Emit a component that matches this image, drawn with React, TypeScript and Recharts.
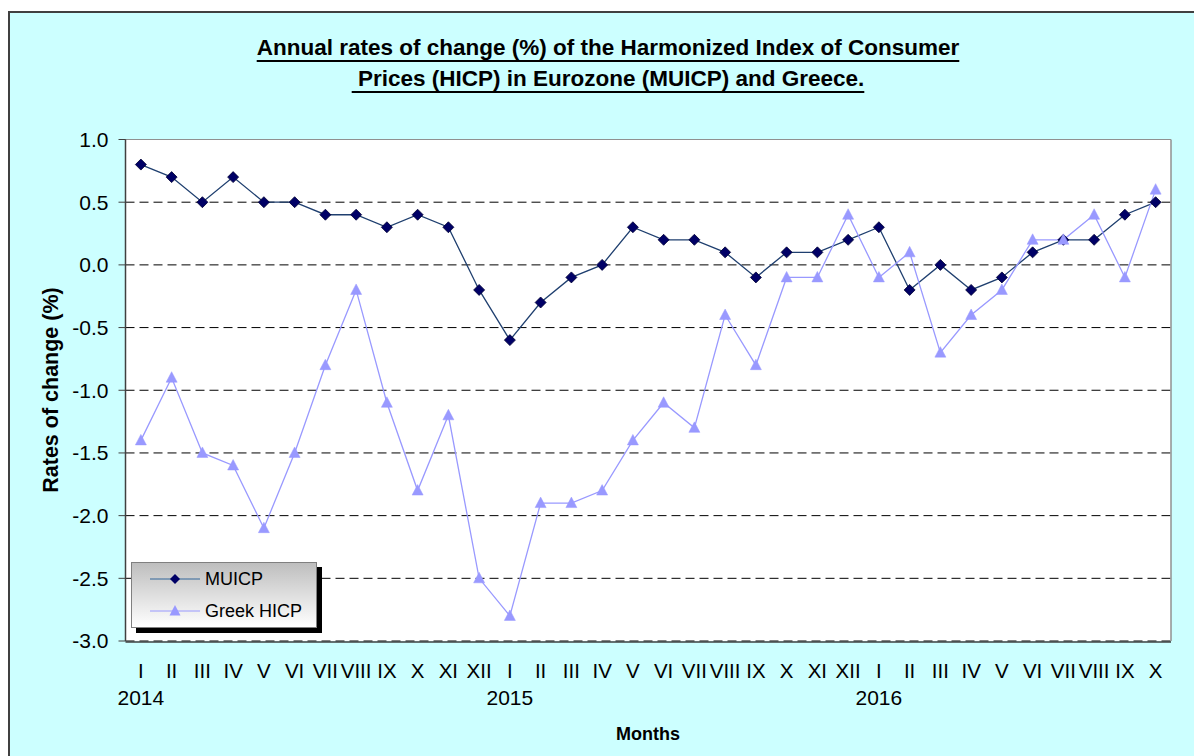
import React from 'react';
import { LineChart, Line, XAxis, YAxis, CartesianGrid } from 'recharts';

const months = [
  'I', 'II', 'III', 'IV', 'V', 'VI', 'VII', 'VIII', 'IX', 'X', 'XI', 'XII',
  'I', 'II', 'III', 'IV', 'V', 'VI', 'VII', 'VIII', 'IX', 'X', 'XI', 'XII',
  'I', 'II', 'III', 'IV', 'V', 'VI', 'VII', 'VIII', 'IX', 'X',
];
const yearLabels = [
  '2014', '', '', '', '', '', '', '', '', '', '', '',
  '2015', '', '', '', '', '', '', '', '', '', '', '',
  '2016', '', '', '', '', '', '', '', '', '',
];
const muicp = [
  0.8, 0.7, 0.5, 0.7, 0.5, 0.5, 0.4, 0.4, 0.3, 0.4, 0.3, -0.2,
  -0.6, -0.3, -0.1, 0.0, 0.3, 0.2, 0.2, 0.1, -0.1, 0.1, 0.1, 0.2,
  0.3, -0.2, 0.0, -0.2, -0.1, 0.1, 0.2, 0.2, 0.4, 0.5,
];
const greekHicp = [
  -1.4, -0.9, -1.5, -1.6, -2.1, -1.5, -0.8, -0.2, -1.1, -1.8, -1.2, -2.5,
  -2.8, -1.9, -1.9, -1.8, -1.4, -1.1, -1.3, -0.4, -0.8, -0.1, -0.1, 0.4,
  -0.1, 0.1, -0.7, -0.4, -0.2, 0.2, 0.2, 0.4, -0.1, 0.6,
];
const yTicks = [-3, -2.5, -2, -1.5, -1, -0.5, 0, 0.5, 1];
const boundaryTicks = months.map((_, i) => i).concat([months.length]);

const data = months.map((m, i) => ({
  idx: i,
  month: m,
  year: yearLabels[i],
  muicp: muicp[i],
  greek: greekHicp[i],
}));

const FONT = "'Liberation Sans', Arial, Helvetica, sans-serif";
const MU_LINE = '#1F3F6F';
const MU_DOT = '#000066';
const GR = '#9999FF';

const Diamond = (p: any) => {
  const { cx, cy } = p;
  if (cx == null || cy == null) return <g key={p.index} />;
  const r = 5.5;
  return (
    <polygon
      key={p.index}
      points={`${cx},${cy - r} ${cx + r},${cy} ${cx},${cy + r} ${cx - r},${cy}`}
      fill={MU_DOT}
      stroke="#000033"
      strokeWidth={0.8}
    />
  );
};

const Triangle = (p: any) => {
  const { cx, cy } = p;
  if (cx == null || cy == null) return <g key={p.index} />;
  return (
    <polygon
      key={p.index}
      points={`${cx},${cy - 6} ${cx + 5.5},${cy + 4.5} ${cx - 5.5},${cy + 4.5}`}
      fill={GR}
      stroke={GR}
      strokeWidth={0.5}
    />
  );
};

const MonthTick = (props: any) => {
  const { x, y, payload } = props;
  const i = payload.value as number;
  return (
    <g>
      <text x={x} y={y} dy={37} textAnchor="middle" fontSize={20.5} fill="#000" fontFamily={FONT}>
        {months[i]}
      </text>
      {yearLabels[i] ? (
        <text x={x} y={y} dy={64} textAnchor="middle" fontSize={21} fill="#000" fontFamily={FONT}>
          {yearLabels[i]}
        </text>
      ) : null}
    </g>
  );
};

const LegendItem = ({ kind, label }: { kind: 'mu' | 'gr'; label: string }) => (
  <div style={{ display: 'flex', alignItems: 'center', height: 32 }}>
    <svg width={54} height={16} style={{ marginLeft: 16, marginRight: 3 }}>
      <line x1={2} y1={8} x2={52} y2={8} stroke={kind === 'mu' ? '#336699' : GR} strokeWidth={1.2} />
      {kind === 'mu' ? (
        <polygon points="27,3 32,8 27,13 22,8" fill={MU_DOT} />
      ) : (
        <polygon points="27,2 32.5,12.5 21.5,12.5" fill={GR} />
      )}
    </svg>
    <span style={{ fontSize: 18, fontFamily: FONT, color: '#000' }}>{label}</span>
  </div>
);

export default function App() {
  return (
    <div
      style={{
        position: 'absolute',
        left: 0,
        top: 0,
        width: 1194,
        height: 756,
        overflow: 'hidden',
        background: '#fff',
      }}
    >
      <div
        style={{
          position: 'absolute',
          left: 8,
          top: 11,
          width: 1200,
          height: 760,
          background: '#CCFFFF',
          borderLeft: '2px solid #404040',
          borderTop: '2px solid #404040',
        }}
      />
      <div
        style={{
          position: 'absolute',
          left: 108,
          top: 32,
          width: 1000,
          textAlign: 'center',
          fontFamily: FONT,
          fontWeight: 'bold',
          fontSize: 22.5,
          lineHeight: '31px',
          color: '#000',
        }}
      >
        <div>
          <span style={{ textDecoration: 'underline', textDecorationThickness: 2, textUnderlineOffset: 5 }}>
            Annual rates of change (%) of the Harmonized Index of Consumer
          </span>
        </div>
        <div>
          <span style={{ textDecoration: 'underline', textDecorationThickness: 2, textUnderlineOffset: 5 }}>
            {'\u00a0Prices (HICP) in Eurozone (MUICP) and Greece.'}
          </span>
        </div>
      </div>
      <div style={{ position: 'absolute', left: 0, top: 0 }}>
        <LineChart
          width={1194}
          height={756}
          data={data}
          margin={{ top: 138.5, right: 22, bottom: 113, left: 65.5 }}
        >
          <CartesianGrid vertical={false} stroke="#000" strokeDasharray="9 5" fill="#fff" />
          <XAxis
            dataKey="idx"
            type="category"
            scale="band"
            interval={0}
            height={1}
            axisLine={false}
            tickLine={false}
            tickSize={0}
            tickMargin={0}
            tick={<MonthTick />}
          />
          <XAxis
            xAxisId="b"
            type="number"
            domain={[0, months.length]}
            allowDataOverflow
            ticks={boundaryTicks}
            interval={0}
            height={1}
            tick={false}
            tickSize={6}
            axisLine={{ stroke: '#404040', strokeWidth: 1.5 }}
            tickLine={{ stroke: '#404040' }}
          />
          <XAxis
            xAxisId="t"
            orientation="top"
            type="number"
            domain={[0, 1]}
            allowDataOverflow
            ticks={[0, 1]}
            height={1}
            tick={false}
            tickLine={false}
            axisLine={{ stroke: '#909090' }}
          />
          <YAxis
            domain={[-3, 1]}
            ticks={yTicks}
            interval={0}
            allowDataOverflow
            width={60}
            tickSize={7}
            tickMargin={10}
            tickFormatter={(v: number) => v.toFixed(1)}
            axisLine={{ stroke: '#404040', strokeWidth: 1.5 }}
            tickLine={{ stroke: '#404040' }}
            tick={{ fontSize: 21, fill: '#000', fontFamily: FONT }}
          />
          <YAxis
            yAxisId="r"
            orientation="right"
            type="number"
            domain={[0, 1]}
            allowDataOverflow
            ticks={[0, 1]}
            width={1}
            tick={false}
            tickLine={false}
            axisLine={{ stroke: '#909090', strokeWidth: 1.5 }}
          />
          <Line
            dataKey="muicp"
            stroke={MU_LINE}
            strokeWidth={1.3}
            dot={(p: any) => <Diamond key={`mu-${p.index}`} {...p} />}
            activeDot={false}
            isAnimationActive={false}
          />
          <Line
            dataKey="greek"
            stroke={GR}
            strokeWidth={1.3}
            dot={(p: any) => <Triangle key={`gr-${p.index}`} {...p} />}
            activeDot={false}
            isAnimationActive={false}
          />
        </LineChart>
      </div>
      <div
        style={{
          position: 'absolute',
          left: 51,
          top: 390,
          transform: 'translate(-50%, -50%) rotate(-90deg)',
          whiteSpace: 'nowrap',
          fontFamily: FONT,
          fontWeight: 'bold',
          fontSize: 21.5,
          color: '#000',
        }}
      >
        Rates of change (%)
      </div>
      <div
        style={{
          position: 'absolute',
          left: 548,
          top: 724,
          width: 200,
          textAlign: 'center',
          fontFamily: FONT,
          fontWeight: 'bold',
          fontSize: 18,
          color: '#000',
        }}
      >
        Months
      </div>
      <div
        style={{
          position: 'absolute',
          left: 131,
          top: 562,
          width: 184,
          height: 64,
          border: '1px solid #808080',
          background: 'linear-gradient(to bottom, #BEBEBE, #FFFFFF)',
          boxShadow: '5px 5px 0 #000',
          display: 'flex',
          flexDirection: 'column',
          justifyContent: 'center',
        }}
      >
        <LegendItem kind="mu" label="MUICP" />
        <LegendItem kind="gr" label="Greek HICP" />
      </div>
    </div>
  );
}
